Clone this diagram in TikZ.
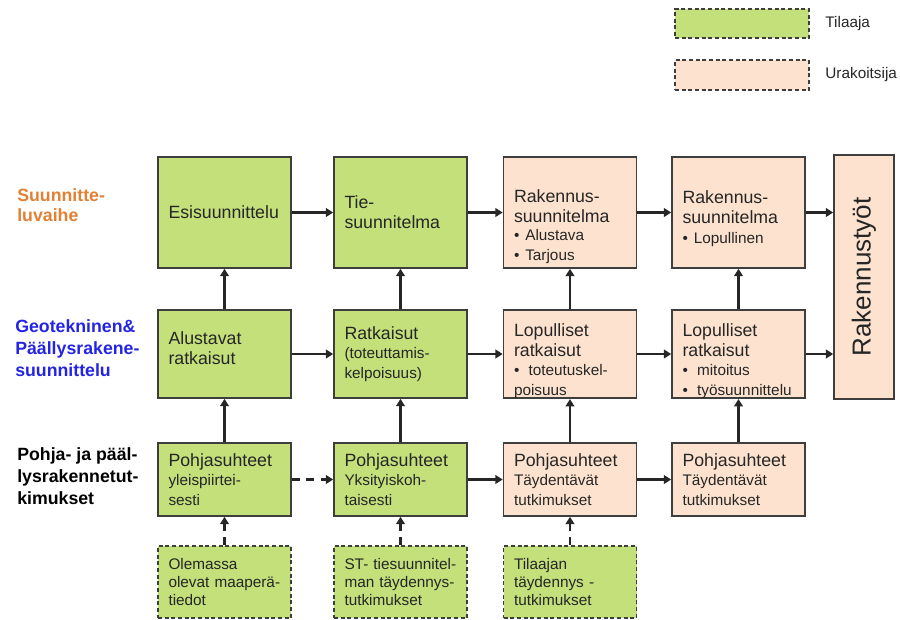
\documentclass[tikz,border=0pt]{standalone}
\usepackage{fontspec, graphicx}
\setmainfont{Liberation Sans}
\usetikzlibrary{arrows.meta}

\definecolor{tilgreen}{RGB}{195,224,122}
\definecolor{urkpeach}{RGB}{253,227,207}
\definecolor{boxline}{RGB}{62,62,62}
\definecolor{txtgray}{RGB}{38,38,38}
\definecolor{vaiheorange}{RGB}{226,128,52}
\definecolor{geoblue}{RGB}{36,36,228}

\newcommand{\isot}{\fontsize{13.3}{15}\selectfont}
\newcommand{\pienet}{\fontsize{11.5}{13.8}\selectfont}
\newcommand{\otsake}{\fontsize{13.3}{16.5}\selectfont}
\newcommand{\ylavali}[1]{\rule{0pt}{#1}} % lisatilaa ensimmaisen rivin ylle

\tikzset{
  laatikko/.style={draw=boxline, line width=1.2pt, minimum width=99.75pt, text width=84pt, align=left, inner sep=0pt, text=txtgray, font=\isot},
  tilaaja/.style={laatikko, fill=tilgreen},
  urakoitsija/.style={laatikko, fill=urkpeach},
  lisatieto/.style={tilaaja, dash pattern=on 3pt off 2pt, font=\pienet},
  nuoli/.style={line width=1.6pt, draw=black!85, -{Triangle[length=5.5pt,width=6.5pt]}},
  katko/.style={nuoli, dash pattern=on 6pt off 5pt},
  rivi1/.style={minimum height=83.25pt},
  rivi2/.style={minimum height=66pt},
  rivi3/.style={minimum height=54.75pt},
  rivi4/.style={minimum height=54pt},
}

\begin{document}
\begin{tikzpicture}[x=0.75pt, y=-0.75pt]
  \useasboundingbox (0,0) rectangle (900,619);

  % selite
  \node[laatikko, fill=tilgreen, dash pattern=on 3pt off 2pt, minimum width=100.5pt, minimum height=21.75pt, text width=] (selT) at (742,23.5) {};
  \node[laatikko, fill=urkpeach, dash pattern=on 3pt off 2pt, minimum width=100.5pt, minimum height=22.5pt, text width=] (selU) at (742,75) {};
  \node[anchor=west, inner sep=0pt, font=\fontsize{11.5}{14}\selectfont, text=txtgray] (selTt) at ([xshift=11.5pt]selT.east) {Tilaaja};
  \node[anchor=west, inner sep=0pt, font=\fontsize{11.5}{14}\selectfont, text=txtgray] (selUt) at ([xshift=11.5pt]selU.east) {Urakoitsija};

  % rivien otsikot
  \node[anchor=west, inner sep=0pt, align=left, font=\bfseries\isot, text=vaiheorange] (vaihe) at (17,205) {Suunnitte-\\luvaihe};
  \node[anchor=west, inner sep=0pt, align=left, font=\bfseries\otsake, text=geoblue] (geo) at (15,348) {Geotekninen\&\\Päällysrakene-\\suunnittelu};
  \node[anchor=west, inner sep=0pt, align=left, font=\bfseries\otsake, text=black] (tutk) at (17,476) {Pohja- ja pääl-\\lysrakennetut-\\kimukset};

  % rivi 1
  \node[tilaaja, rivi1] (esis) at (224.5,212.5) {Esisuunnittelu};
  \node[tilaaja, rivi1] (ties) at (400.5,212.5) {Tie-\\suunnitelma};
  \node[urakoitsija, rivi1] (raks1) at (570,212.5) {\ylavali{30.7pt}Rakennus-\\suunnitelma\par\pienet • Alustava\\• Tarjous};
  \node[urakoitsija, rivi1] (raks2) at (738.5,212.5) {\ylavali{18.7pt}Rakennus-\\suunnitelma\par\pienet • Lopullinen};
  \node[draw=boxline, line width=1.2pt, fill=urkpeach, minimum width=45pt, minimum height=183pt, inner sep=0pt, text=txtgray, font=\fontsize{19.5}{22}\selectfont] (rak) at (864,277) {\rotatebox{90}{Rakennustyöt}};

  % rivi 2
  \node[tilaaja, rivi2] (alus) at (224.5,354) {Alustavat\\ratkaisut\par\vspace*{9pt}};
  \node[tilaaja, rivi2] (ratk) at (400.5,354) {Ratkaisut\par\pienet (toteuttamis-\\kelpoisuus)};
  \node[urakoitsija, rivi2] (lop1) at (570,354) {\ylavali{20.2pt}Lopulliset\\ratkaisut\par\pienet •\hspace{0.6em}toteutuskel-\\poisuus};
  \node[urakoitsija, rivi2] (lop2) at (738.5,354) {\ylavali{20.2pt}Lopulliset\\ratkaisut\par\pienet •\hspace{0.6em}mitoitus\\•\hspace{0.6em}työsuunnittelu};

  % rivi 3
  \node[tilaaja, rivi3] (pohja1) at (224.5,479.5) {Pohjasuhteet\par\pienet yleispiirtei-\\sesti};
  \node[tilaaja, rivi3] (pohja2) at (400.5,479.5) {Pohjasuhteet\par\pienet Yksityiskoh-\\taisesti};
  \node[urakoitsija, rivi3] (pohja3) at (570,479.5) {Pohjasuhteet\par\pienet Täydentävät\\tutkimukset};
  \node[urakoitsija, rivi3] (pohja4) at (738.5,479.5) {Pohjasuhteet\par\pienet Täydentävät\\tutkimukset};

  % rivi 4
  \node[lisatieto, rivi4] (olem) at (224.5,582) {Olemassa\\olevat maaperä-\\tiedot};
  \node[lisatieto, rivi4] (sttie) at (400.5,582) {ST- tiesuunnitel-\\man täydennys-\\tutkimukset};
  \node[lisatieto, rivi4] (tilt) at (570,582) {Tilaajan\\täydennys -\\tutkimukset};

  % nuolet
  \draw[nuoli] (esis) -- (ties);
  \draw[nuoli] (ties) -- (raks1);
  \draw[nuoli] (raks1) -- (raks2);
  \draw[nuoli] (raks2.east) -- (raks2.east -| rak.west);
  \draw[nuoli] (alus) -- (ratk);
  \draw[nuoli] (ratk) -- (lop1);
  \draw[nuoli] (lop1) -- (lop2);
  \draw[nuoli] (lop2.east) -- (lop2.east -| rak.west);
  \draw[katko] (pohja1) -- (pohja2);
  \draw[nuoli] (pohja2) -- (pohja3);
  \draw[nuoli] (pohja3) -- (pohja4);
  \draw[nuoli] (alus) -- (esis);
  \draw[nuoli] (ratk) -- (ties);
  \draw[nuoli] (lop1) -- (raks1);
  \draw[nuoli] (lop2) -- (raks2);
  \draw[nuoli] (pohja1) -- (alus);
  \draw[nuoli] (pohja2) -- (ratk);
  \draw[nuoli] (pohja3) -- (lop1);
  \draw[nuoli] (pohja4) -- (lop2);
  \draw[katko] (olem) -- (pohja1);
  \draw[katko] (sttie) -- (pohja2);
  \draw[katko] (tilt) -- (pohja3);
\end{tikzpicture}
\end{document}
